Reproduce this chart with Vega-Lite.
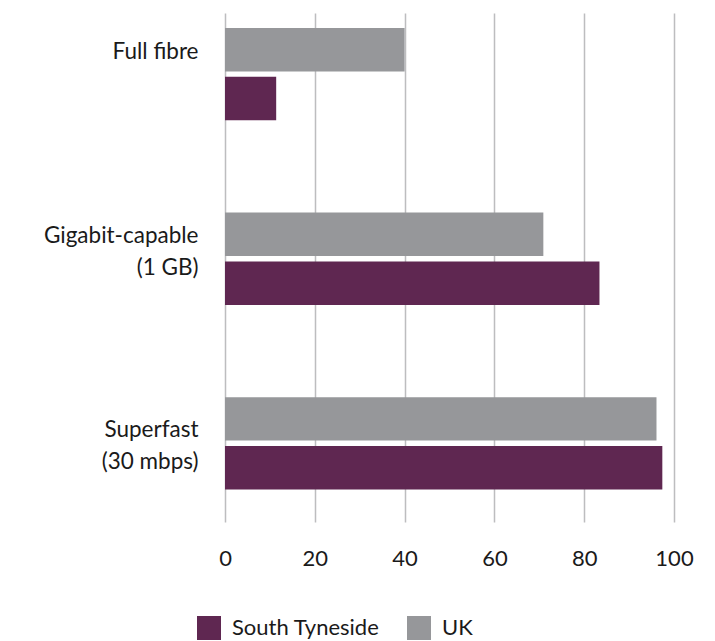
{
  "$schema": "https://vega.github.io/schema/vega-lite/v6.json",
  "autosize": "none",
  "padding": {"left": 225, "top": 13, "right": 42, "bottom": 119},
  "width": 449,
  "height": 509,
  "background": "white",
  "data": {
    "values": [
      {"category": "Full fibre", "area": "UK", "value": 40.0},
      {"category": "Full fibre", "area": "South Tyneside", "value": 11.4},
      {"category": "Gigabit-capable (1 GB)", "area": "UK", "value": 70.9},
      {"category": "Gigabit-capable (1 GB)", "area": "South Tyneside", "value": 83.4},
      {"category": "Superfast (30 mbps)", "area": "UK", "value": 96.1},
      {"category": "Superfast (30 mbps)", "area": "South Tyneside", "value": 97.4}
    ]
  },
  "config": {
    "view": {"stroke": null},
    "font": "Lato",
    "axis": {"labelFont": "Lato", "labelColor": "#1a1a1a"},
    "legend": {"labelFont": "Lato", "labelColor": "#1a1a1a"}
  },
  "mark": {"type": "bar"},
  "encoding": {
    "y": {
      "field": "category",
      "type": "nominal",
      "sort": ["Full fibre", "Gigabit-capable (1 GB)", "Superfast (30 mbps)"],
      "scale": {"paddingInner": 0.5, "paddingOuter": 0.129, "align": 0.316},
      "axis": {
        "title": null,
        "domain": false,
        "ticks": false,
        "tickSize": 0,
        "labelFontSize": 22.5,
        "labelLineHeight": 32,
        "labelPadding": 27,
        "labelOffset": {"condition": [{"test": "datum.value == 'Full fibre'", "value": -22}, {"test": "datum.value == 'Superfast (30 mbps)'", "value": -13}], "value": -23},
        "labelExpr": "indexof(datum.value, ' (') > 0 ? [substring(datum.value, 0, indexof(datum.value, ' (')), substring(datum.value, indexof(datum.value, ' (') + 1)] : datum.value"
      }
    },
    "yOffset": {
      "field": "area",
      "type": "nominal",
      "sort": ["UK", "South Tyneside"],
      "scale": {"paddingInner": 0.11, "paddingOuter": 0}
    },
    "x": {
      "field": "value",
      "type": "quantitative",
      "scale": {"domain": [0, 100], "nice": false},
      "axis": {
        "title": null,
        "values": [0, 20, 40, 60, 80, 100],
        "domain": false,
        "ticks": false,
        "tickSize": 0,
        "grid": true,
        "gridColor": "#bdbdbf",
        "gridWidth": 1.5,
        "labelFontSize": 22,
        "labelBaseline": "alphabetic",
        "labelPadding": 43,
        "labelFlush": false
      }
    },
    "color": {
      "field": "area",
      "type": "nominal",
      "scale": {"domain": ["South Tyneside", "UK"], "range": ["#5f2751", "#96979a"]},
      "legend": {
        "title": null,
        "orient": "none",
        "direction": "horizontal",
        "legendX": -28,
        "legendY": 603,
        "symbolType": "square",
        "symbolSize": 576,
        "symbolStrokeWidth": 0,
        "labelFontSize": 22,
        "labelOffset": 11,
        "columnPadding": 27
      }
    }
  }
}
